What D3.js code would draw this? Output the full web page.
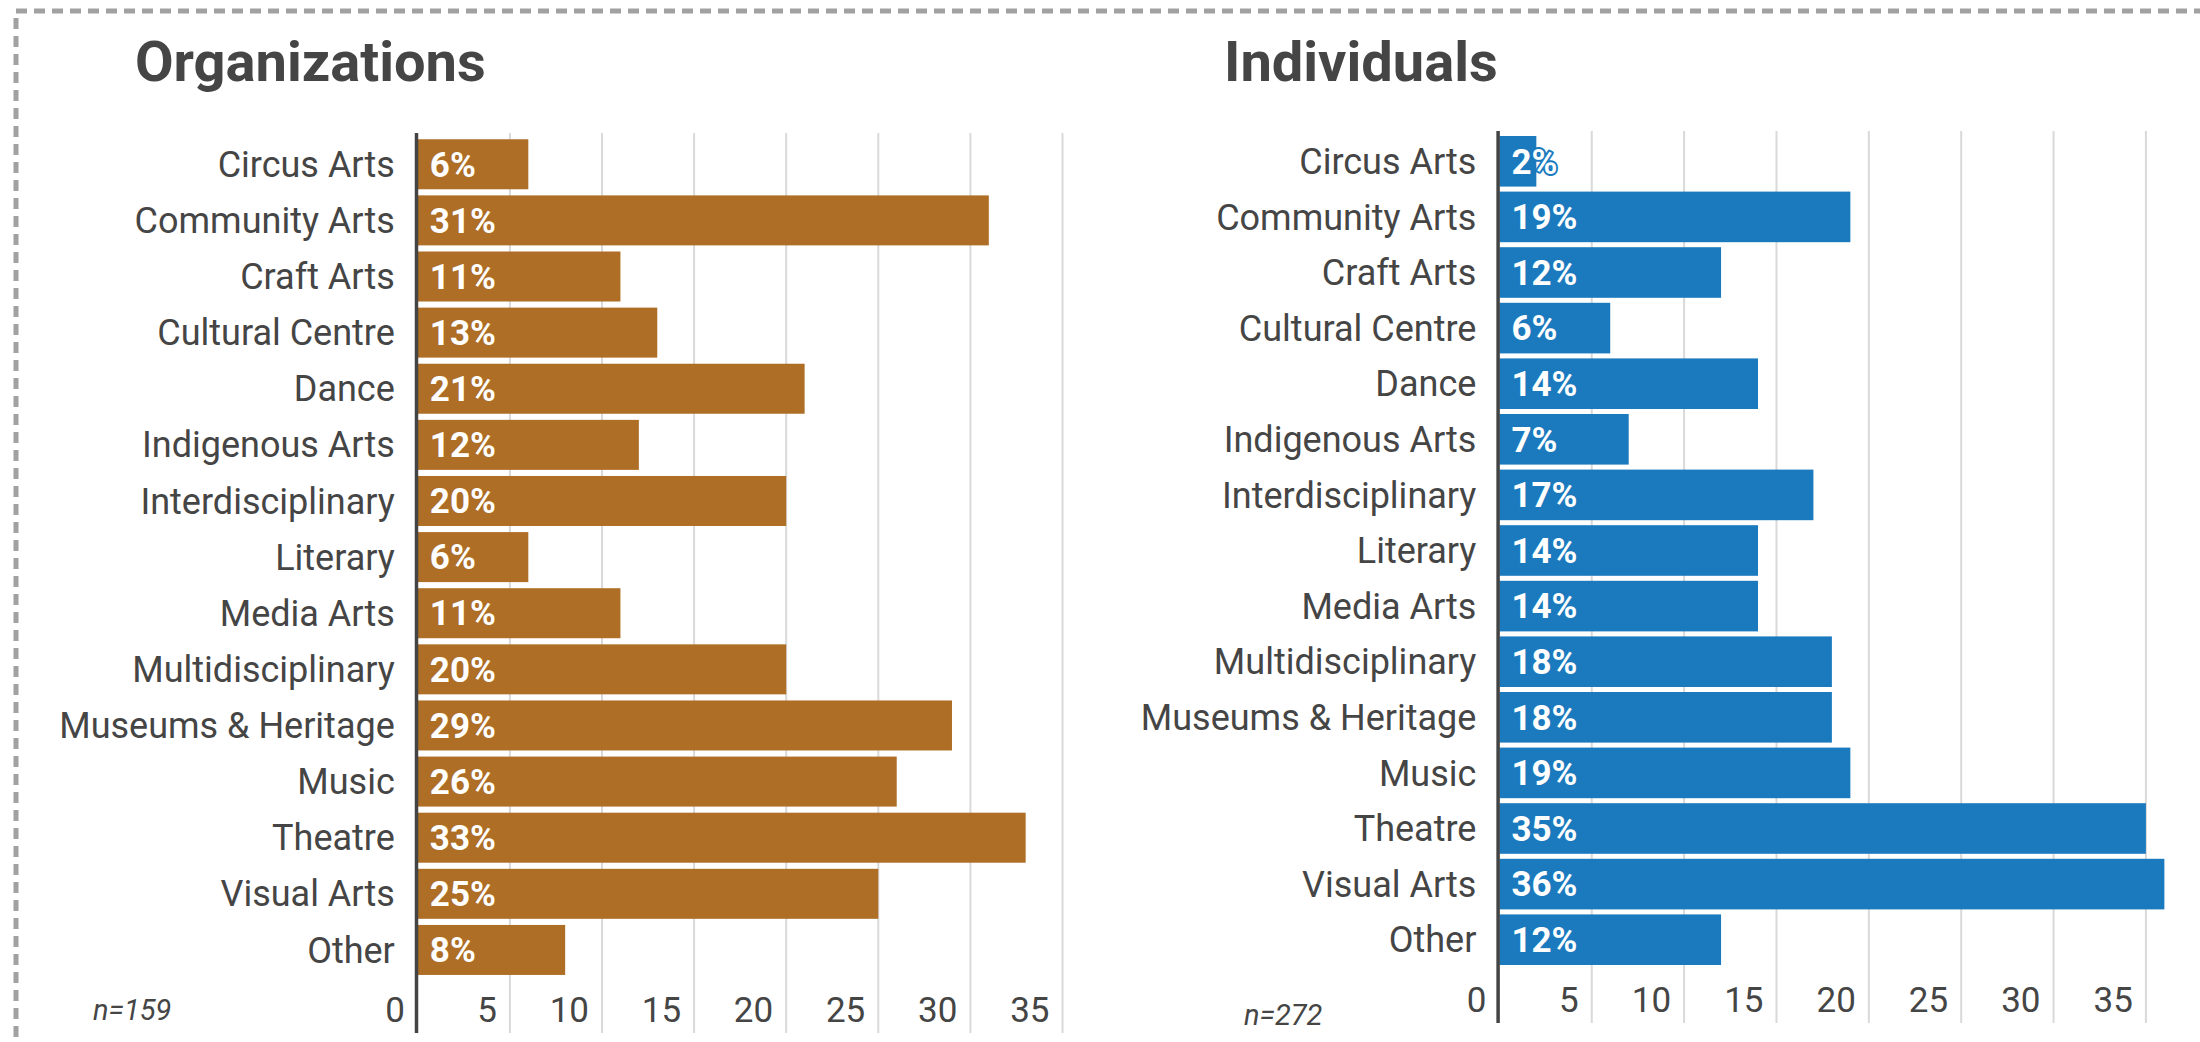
<!DOCTYPE html>
<html>
<head>
<meta charset="utf-8">
<script src="https://cdn.jsdelivr.net/npm/d3@7"></script>
<style>
  html, body { margin: 0; padding: 0; background: #ffffff; }
  svg { display: block; }
  text { font-family: Roboto, "Noto Sans", sans-serif; }
</style>
</head>
<body>
<svg id="chart" width="2200" height="1042"></svg>
<script>
// Disciplines, in display order (top to bottom)
const categories = [
  "Circus Arts", "Community Arts", "Craft Arts", "Cultural Centre", "Dance",
  "Indigenous Arts", "Interdisciplinary", "Literary", "Media Arts",
  "Multidisciplinary", "Museums & Heritage", "Music", "Theatre",
  "Visual Arts", "Other"
];

// Share of respondents (%) working in each discipline
const organizationValues = [6, 31, 11, 13, 21, 12, 20, 6, 11, 20, 29, 26, 33, 25, 8];
const individualValues   = [2, 19, 12, 6, 14, 7, 17, 14, 14, 18, 18, 19, 35, 36, 12];

// Axis ticks and panel text
const tickValues = [0, 5, 10, 15, 20, 25, 30, 35];
const panelTitles = ["Organizations", "Individuals"];
const sampleSizes = ["n=159", "n=272"];

// Layout of the two side-by-side panels
const panels = [
  {
    title: panelTitles[0], values: organizationValues, note: sampleSizes[0],
    color: "#AE6E25",
    titleX: 135, titleY: 81,
    x0: 417.8, x35: 1062.5,
    plotTop: 133, plotBottom: 1033,
    bandTop: 136.2, bandBottom: 978.0, padding: 0.109,
    noteX: 93, noteY: 1020
  },
  {
    title: panelTitles[1], values: individualValues, note: sampleSizes[1],
    color: "#1B7ABE",
    titleX: 1224, titleY: 81,
    x0: 1499.4, x35: 2145.9,
    plotTop: 131, plotBottom: 1023,
    bandTop: 133.5, bandBottom: 967.5, padding: 0.09,
    noteX: 1244, noteY: 1025
  }
];

const svg = d3.select("#chart");
const textColor = "#454545";

// Dashed frame around the figure (runs off the right and bottom edges)
svg.append("rect")
  .attr("x", 16).attr("y", 11)
  .attr("width", 2400).attr("height", 1200)
  .attr("fill", "none")
  .attr("stroke", "#a1a1a1")
  .attr("stroke-width", 5)
  .attr("stroke-dasharray", "11,7");

panels.forEach(p => {
  const g = svg.append("g");

  const x = d3.scaleLinear().domain([0, 35]).range([p.x0, p.x35]);
  const y = d3.scaleBand()
    .domain(categories)
    .range([p.bandTop, p.bandBottom])
    .paddingInner(p.padding)
    .paddingOuter(p.padding / 2);

  // Title
  g.append("text")
    .attr("x", p.titleX).attr("y", p.titleY)
    .attr("font-size", 56).attr("font-weight", 700)
    .attr("fill", textColor)
    .text(p.title);

  // Vertical gridlines
  g.append("g").selectAll("line")
    .data(tickValues.filter(t => t > 0))
    .join("line")
    .attr("x1", d => x(d)).attr("x2", d => x(d))
    .attr("y1", p.plotTop).attr("y2", p.plotBottom)
    .attr("stroke", "#d9d9d9").attr("stroke-width", 2);

  // Tick labels sit just left of their gridline, at the foot of the plot
  g.append("g").selectAll("text")
    .data(tickValues)
    .join("text")
    .attr("x", d => x(d) - 13)
    .attr("y", p.plotBottom - 11.5)
    .attr("text-anchor", "end")
    .attr("font-size", 35)
    .attr("fill", textColor)
    .text(d => d);

  // Bars
  g.append("g").selectAll("rect")
    .data(categories.map((c, i) => ({ c, v: p.values[i] })))
    .join("rect")
    .attr("x", x(0))
    .attr("y", d => y(d.c))
    .attr("width", d => x(d.v) - x(0))
    .attr("height", y.bandwidth())
    .attr("fill", p.color);

  // Value labels inside the bars, outlined in the bar colour
  g.append("g").selectAll("text")
    .data(categories.map((c, i) => ({ c, v: p.values[i] })))
    .join("text")
    .attr("x", x(0) + 12)
    .attr("y", d => y(d.c) + y.bandwidth() / 2)
    .attr("dy", "0.35em")
    .attr("font-size", 35).attr("font-weight", 700)
    .attr("fill", "#ffffff")
    .attr("stroke", p.color).attr("stroke-width", 4)
    .attr("stroke-linejoin", "round")
    .attr("paint-order", "stroke")
    .text(d => d.v + "%");

  // Category labels
  g.append("g").selectAll("text")
    .data(categories)
    .join("text")
    .attr("x", x(0) - 23)
    .attr("y", d => y(d) + y.bandwidth() / 2)
    .attr("dy", "0.35em")
    .attr("text-anchor", "end")
    .attr("font-size", 36)
    .attr("fill", textColor)
    .text(d => d);

  // Baseline axis
  g.append("line")
    .attr("x1", x(0) - 1.3).attr("x2", x(0) - 1.3)
    .attr("y1", p.plotTop).attr("y2", p.plotBottom)
    .attr("stroke", "#444444").attr("stroke-width", 3.5);

  // Sample size note
  g.append("text")
    .attr("x", p.noteX).attr("y", p.noteY)
    .attr("font-size", 29).attr("font-style", "italic")
    .attr("fill", textColor)
    .text(p.note);
});
</script>
</body>
</html>
